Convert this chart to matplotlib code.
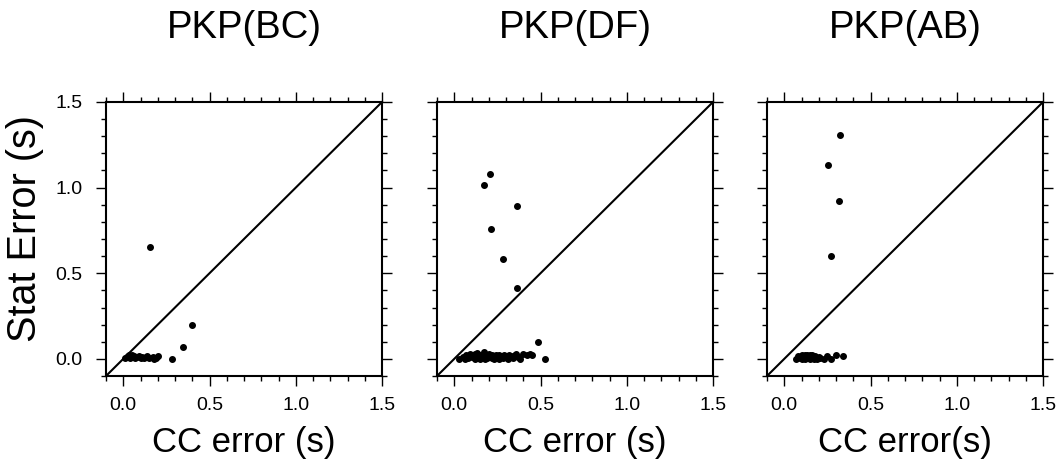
import matplotlib.pyplot as plt
from matplotlib.ticker import MultipleLocator

plt.rcParams['font.family'] = ['Liberation Sans', 'DejaVu Sans']

titles = ['PKP(BC)', 'PKP(DF)', 'PKP(AB)']
xlabels = ['CC error (s)', 'CC error (s)', 'CC error(s)']

# PKP(BC)
bc_x = [0.155, 0.40, 0.345, 0.285, 0.01, 0.02, 0.03, 0.035, 0.04, 0.05, 0.05, 0.06, 0.07, 0.08,
        0.09, 0.10, 0.11, 0.12, 0.13, 0.14, 0.15, 0.17, 0.18, 0.19, 0.20]
bc_y = [0.655, 0.195, 0.07, 0.0, 0.005, 0.01, 0.015, 0.02, 0.005, 0.02, 0.01, 0.015, 0.005, 0.01,
        0.015, 0.005, 0.01, 0.005, 0.01, 0.015, 0.005, 0.01, 0.0, 0.005, 0.015]

# PKP(DF)
df_x = [0.21, 0.17, 0.365, 0.215, 0.28, 0.365, 0.485, 0.525,
        0.03, 0.05, 0.06, 0.07, 0.08, 0.09, 0.10, 0.11, 0.12, 0.13, 0.14, 0.15, 0.15, 0.16,
        0.17, 0.18, 0.19, 0.20, 0.21, 0.22, 0.23, 0.24, 0.25, 0.26, 0.27, 0.28, 0.29, 0.30,
        0.31, 0.32, 0.33, 0.34, 0.35, 0.36, 0.37, 0.38, 0.40, 0.42, 0.44, 0.45, 0.12, 0.18,
        0.22, 0.26]
df_y = [1.08, 1.015, 0.895, 0.76, 0.585, 0.415, 0.10, 0.0,
        0.0, 0.01, 0.0, 0.02, 0.005, 0.03, 0.01, 0.02, 0.0, 0.035, 0.015, 0.025, 0.0, 0.01,
        0.04, 0.02, 0.005, 0.03, 0.015, 0.025, 0.0, 0.02, 0.01, 0.0, 0.015, 0.005, 0.02, 0.01,
        0.0, 0.025, 0.015, 0.005, 0.02, 0.03, 0.01, 0.0, 0.03, 0.02, 0.03, 0.025, 0.03, 0.0,
        0.005, 0.025]

# PKP(AB)
ab_x = [0.325, 0.255, 0.317, 0.27, 0.23, 0.245, 0.27, 0.30, 0.34,
        0.07, 0.08, 0.09, 0.10, 0.10, 0.11, 0.12, 0.12, 0.13, 0.14, 0.15, 0.15, 0.16, 0.17,
        0.18, 0.19, 0.20, 0.21, 0.09, 0.13, 0.17]
ab_y = [1.31, 1.13, 0.92, 0.60, 0.0, 0.015, 0.0, 0.025, 0.015,
        0.0, 0.015, 0.005, 0.02, 0.0, 0.01, 0.025, 0.0, 0.015, 0.005, 0.02, 0.0, 0.025, 0.01,
        0.015, 0.0, 0.01, 0.005, 0.01, 0.02, 0.0]

xs = [bc_x, df_x, ab_x]
ys = [bc_y, df_y, ab_y]

fig = plt.figure(figsize=(10.63, 4.66), dpi=100)
lefts = [106, 437, 767]
for i in range(3):
    ax = fig.add_axes([lefts[i] / 1063, 90 / 466, 276 / 1063, 274 / 466])
    ax.plot([-0.1, 1.5], [-0.1, 1.5], color='black', lw=1.5)
    ax.scatter(xs[i], ys[i], s=16, color='black', zorder=3, clip_on=False)
    ax.set_xlim(-0.1, 1.5)
    ax.set_ylim(-0.1, 1.5)
    ax.xaxis.set_minor_locator(MultipleLocator(0.1))
    ax.yaxis.set_minor_locator(MultipleLocator(0.1))
    ax.tick_params(which='both', direction='out', top=True, right=True, width=1, labelsize=14)
    ax.tick_params(axis='x', pad=8)
    ax.tick_params(axis='y', pad=10)
    ax.tick_params(which='major', length=7)
    ax.tick_params(which='minor', length=3.5)
    ax.set_xticks([0, 0.5, 1.0, 1.5])
    ax.set_xticklabels(['0.0', '0.5', '1.0', '1.5'])
    ax.set_yticks([0, 0.5, 1.0, 1.5])
    if i == 0:
        ax.set_yticklabels(['0.0', '0.5', '1.0', '1.5'])
    else:
        ax.set_yticklabels([])
    for sp in ax.spines.values():
        sp.set_linewidth(1.5)
    ax.set_xlabel(xlabels[i], fontsize=25, labelpad=9)
    ax.set_title(titles[i], fontsize=27.5, pad=46)

fig.text(25 / 1063, 1 - 229 / 466, 'Stat Error (s)', fontsize=28.5, rotation=90,
         ha='center', va='center')

fig.savefig('out.png', dpi=100)
